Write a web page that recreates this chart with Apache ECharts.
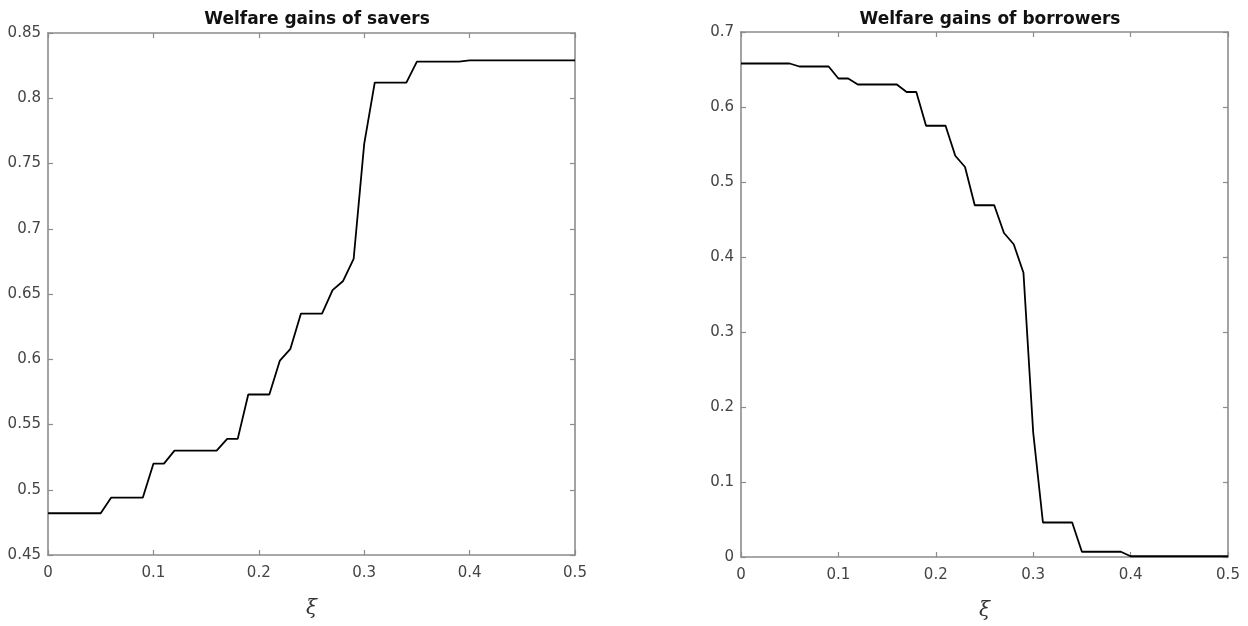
<!DOCTYPE html>
<html>
<head>
<meta charset="utf-8">
<script src="https://cdn.jsdelivr.net/npm/echarts@6/dist/echarts.min.js"></script>
<style>html,body{margin:0;padding:0;background:#fff;}#c{width:1248px;height:626px;}</style>
</head>
<body>
<div id="c"></div>
<script>
var xi = [0,0.01,0.02,0.03,0.04,0.05,0.06,0.07,0.08,0.09,0.10,0.11,0.12,0.13,0.14,0.15,0.16,0.17,0.18,0.19,0.20,0.21,0.22,0.23,0.24,0.25,0.26,0.27,0.28,0.29,0.30,0.31,0.32,0.33,0.34,0.35,0.36,0.37,0.38,0.39,0.40,0.41,0.42,0.43,0.44,0.45,0.46,0.47,0.48,0.49,0.50];
var savers = [0.482,0.482,0.482,0.482,0.482,0.482,0.494,0.494,0.494,0.494,0.520,0.520,0.530,0.530,0.530,0.530,0.530,0.539,0.539,0.573,0.573,0.573,0.599,0.608,0.635,0.635,0.635,0.653,0.660,0.677,0.765,0.812,0.812,0.812,0.812,0.828,0.828,0.828,0.828,0.828,0.829,0.829,0.829,0.829,0.829,0.829,0.829,0.829,0.829,0.829,0.829];
var borrowers = [0.658,0.658,0.658,0.658,0.658,0.658,0.654,0.654,0.654,0.654,0.638,0.638,0.630,0.630,0.630,0.630,0.630,0.620,0.620,0.575,0.575,0.575,0.535,0.520,0.469,0.469,0.469,0.432,0.417,0.379,0.166,0.046,0.046,0.046,0.046,0.007,0.007,0.007,0.007,0.007,0.001,0.001,0.001,0.001,0.001,0.001,0.001,0.001,0.001,0.001,0.001];
var titles = ['Welfare gains of savers', 'Welfare gains of borrowers'];
var xName = 'ξ';

function pairs(ys){ return xi.map(function(x,i){ return [x, ys[i]]; }); }

var axisCol = '#8c8c8c';
var labCol = '#444444';
var font = 'DejaVu Sans, Liberation Sans, sans-serif';

function line(){ return {show:true, onZero:false, lineStyle:{color:axisCol, width:1.6}}; }
function tick(){ return {show:true, inside:true, length:5, lineStyle:{color:axisCol, width:1.2}}; }

function xAxes(gi){
  return [{
    type:'value', gridIndex:gi, min:0, max:0.5, interval:0.1, position:'bottom',
    axisLine:line(), axisTick:tick(),
    axisLabel:{color:labCol, fontSize:15, fontFamily:font, margin:11},
    splitLine:{show:false},
    name:xName, nameLocation:'middle', nameGap:44,
    nameTextStyle:{fontFamily:'DejaVu Serif, Liberation Serif, serif', fontStyle:'italic', fontSize:20, color:'#333'}
  },{
    type:'value', gridIndex:gi, min:0, max:0.5, interval:0.1, position:'top',
    axisLine:line(), axisTick:tick(),
    axisLabel:{show:false}, splitLine:{show:false}
  }];
}
function yAxes(gi, mn, mx, iv){
  return [{
    type:'value', gridIndex:gi, min:mn, max:mx, interval:iv, position:'left',
    axisLine:line(), axisTick:tick(),
    axisLabel:{color:labCol, fontSize:15, fontFamily:font, margin:7},
    splitLine:{show:false}
  },{
    type:'value', gridIndex:gi, min:mn, max:mx, interval:iv, position:'right',
    axisLine:line(), axisTick:tick(),
    axisLabel:{show:false}, splitLine:{show:false}
  }];
}

var chart = echarts.init(document.getElementById('c'), null, {renderer:'canvas'});
chart.setOption({
  animation:false,
  backgroundColor:'#fff',
  title:[
    {text:titles[0], left:312, top:6, textAlign:'center', textStyle:{fontFamily:font, fontWeight:'bold', fontSize:17, color:'#111'}},
    {text:titles[1], left:985, top:6, textAlign:'center', textStyle:{fontFamily:font, fontWeight:'bold', fontSize:17, color:'#111'}}
  ],
  grid:[
    {left:48, top:33, width:527, height:522},
    {left:741, top:32, width:487, height:528}
  ],
  xAxis: xAxes(0).concat(xAxes(1)),
  yAxis: yAxes(0, 0.45, 0.85, 0.05).concat(yAxes(1, 0, 0.7, 0.1)),
  series:[
    {type:'line', xAxisIndex:0, yAxisIndex:0, data:pairs(savers), showSymbol:false, lineStyle:{color:'#000', width:1.8}, z:5},
    {type:'line', xAxisIndex:2, yAxisIndex:2, data:pairs(borrowers), showSymbol:false, lineStyle:{color:'#000', width:1.8}, z:5}
  ]
});
</script>
</body>
</html>
